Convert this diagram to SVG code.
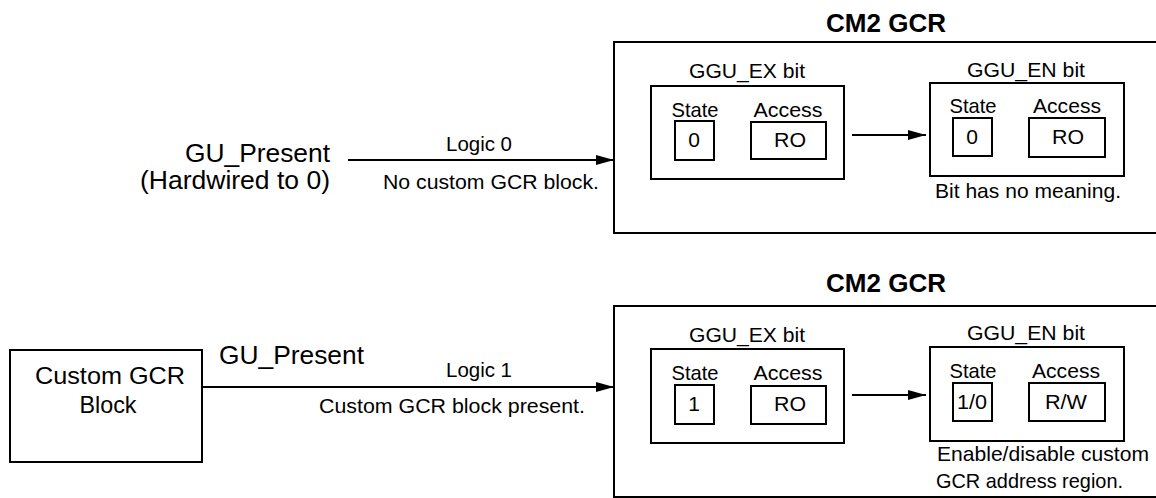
<svg xmlns="http://www.w3.org/2000/svg" width="1156" height="498" viewBox="0 0 1156 498">
<defs>
<style>
text{font-family:"Liberation Sans",Arial,sans-serif;fill:#000}
.box{fill:none;stroke:#000;stroke-width:2}
.ln{fill:none;stroke:#000;stroke-width:2}
.title{font-size:25px;font-weight:bold;text-anchor:middle}
.big{font-size:26px}
.blk{font-size:24px}
.lbl{font-size:21px}
.sm{font-size:20px}
.m{text-anchor:middle}
</style>
<marker id="ah" viewBox="0 0 18 10" refX="18" refY="5" markerWidth="18" markerHeight="10" markerUnits="userSpaceOnUse" orient="auto">
<path d="M0,0 L18,5 L0,10 Z" fill="#000"/>
</marker>
</defs>
<rect width="1156" height="498" fill="#fff"/>

<g id="connectors">
<line class="ln" x1="348" y1="160" x2="614" y2="160" marker-end="url(#ah)"/>
<line class="ln" x1="852" y1="135" x2="926" y2="135" marker-end="url(#ah)"/>
<line class="ln" x1="202" y1="387" x2="614" y2="387" marker-end="url(#ah)"/>
<line class="ln" x1="852" y1="395" x2="926" y2="395" marker-end="url(#ah)"/>
<text class="sm m" x="479" y="151" textLength="66" lengthAdjust="spacingAndGlyphs">Logic 0</text>
<text class="lbl" x="383" y="189" textLength="216" lengthAdjust="spacingAndGlyphs">No custom GCR block.</text>
<text class="big" x="219" y="364" textLength="145" lengthAdjust="spacingAndGlyphs">GU_Present</text>
<text class="sm m" x="479" y="377" textLength="66" lengthAdjust="spacingAndGlyphs">Logic 1</text>
<text class="lbl" x="319" y="413" textLength="266" lengthAdjust="spacingAndGlyphs">Custom GCR block present.</text>
</g>

<g id="gu-present-top">
<text class="big" x="185" y="162" textLength="145" lengthAdjust="spacingAndGlyphs">GU_Present</text>
<text class="big" x="140" y="189" textLength="190" lengthAdjust="spacingAndGlyphs">(Hardwired to 0)</text>
</g>

<g id="custom-gcr-block">
<rect class="box" x="10" y="350" width="192" height="112"/>
<text class="blk m" x="110" y="384" textLength="150" lengthAdjust="spacingAndGlyphs">Custom GCR</text>
<text class="blk m" x="108" y="413" textLength="57" lengthAdjust="spacingAndGlyphs">Block</text>
</g>

<g id="cm2-gcr-top">
<text class="title" x="886" y="32" textLength="120" lengthAdjust="spacingAndGlyphs">CM2 GCR</text>
<rect class="box" x="614" y="42" width="560" height="191"/>
</g>

<g id="ggu-ex-top">
<text class="lbl m" x="747" y="78" textLength="116" lengthAdjust="spacingAndGlyphs">GGU_EX bit</text>
<rect class="box" x="651" y="86" width="193" height="93"/>
<text class="lbl m" x="695" y="117" textLength="47" lengthAdjust="spacingAndGlyphs">State</text>
<rect class="box" x="675" y="121" width="39" height="39"/>
<text class="lbl m" x="694" y="147">0</text>
<text class="lbl m" x="788" y="117" textLength="69" lengthAdjust="spacingAndGlyphs">Access</text>
<rect class="box" x="751" y="122" width="75" height="37"/>
<text class="lbl m" x="790" y="147" textLength="32" lengthAdjust="spacingAndGlyphs">RO</text>
</g>

<g id="ggu-en-top">
<text class="lbl m" x="1026" y="77" textLength="118" lengthAdjust="spacingAndGlyphs">GGU_EN bit</text>
<rect class="box" x="930" y="83" width="194" height="93"/>
<text class="lbl m" x="973" y="113" textLength="47" lengthAdjust="spacingAndGlyphs">State</text>
<rect class="box" x="953" y="118" width="39" height="38"/>
<text class="lbl m" x="972" y="144">0</text>
<text class="lbl m" x="1067" y="113" textLength="68" lengthAdjust="spacingAndGlyphs">Access</text>
<rect class="box" x="1029" y="118" width="76" height="39"/>
<text class="lbl m" x="1068" y="144" textLength="32" lengthAdjust="spacingAndGlyphs">RO</text>
<text class="lbl m" x="1028" y="198" textLength="186" lengthAdjust="spacingAndGlyphs">Bit has no meaning.</text>
</g>

<g id="cm2-gcr-bottom">
<text class="title" x="886" y="292" textLength="120" lengthAdjust="spacingAndGlyphs">CM2 GCR</text>
<rect class="box" x="614" y="306" width="560" height="191"/>
</g>

<g id="ggu-ex-bottom">
<text class="lbl m" x="747" y="342" textLength="116" lengthAdjust="spacingAndGlyphs">GGU_EX bit</text>
<rect class="box" x="651" y="349" width="193" height="94"/>
<text class="lbl m" x="695" y="380" textLength="47" lengthAdjust="spacingAndGlyphs">State</text>
<rect class="box" x="675" y="385" width="39" height="39"/>
<text class="lbl m" x="694" y="411">1</text>
<text class="lbl m" x="788" y="380" textLength="69" lengthAdjust="spacingAndGlyphs">Access</text>
<rect class="box" x="751" y="386" width="75" height="38"/>
<text class="lbl m" x="790" y="411" textLength="32" lengthAdjust="spacingAndGlyphs">RO</text>
</g>

<g id="ggu-en-bottom">
<text class="lbl m" x="1026" y="340" textLength="118" lengthAdjust="spacingAndGlyphs">GGU_EN bit</text>
<rect class="box" x="930" y="347" width="194" height="94"/>
<text class="lbl m" x="973" y="378" textLength="47" lengthAdjust="spacingAndGlyphs">State</text>
<rect class="box" x="953" y="383" width="39" height="38"/>
<text class="lbl m" x="972" y="409" textLength="30" lengthAdjust="spacingAndGlyphs">1/0</text>
<text class="lbl m" x="1066" y="378" textLength="68" lengthAdjust="spacingAndGlyphs">Access</text>
<rect class="box" x="1029" y="383" width="76" height="38"/>
<text class="lbl m" x="1066" y="409" textLength="42" lengthAdjust="spacingAndGlyphs">R/W</text>
<text class="lbl" x="937" y="461" textLength="212" lengthAdjust="spacingAndGlyphs">Enable/disable custom</text>
<text class="lbl" x="936" y="488" textLength="187" lengthAdjust="spacingAndGlyphs">GCR address region.</text>
</g>
</svg>
